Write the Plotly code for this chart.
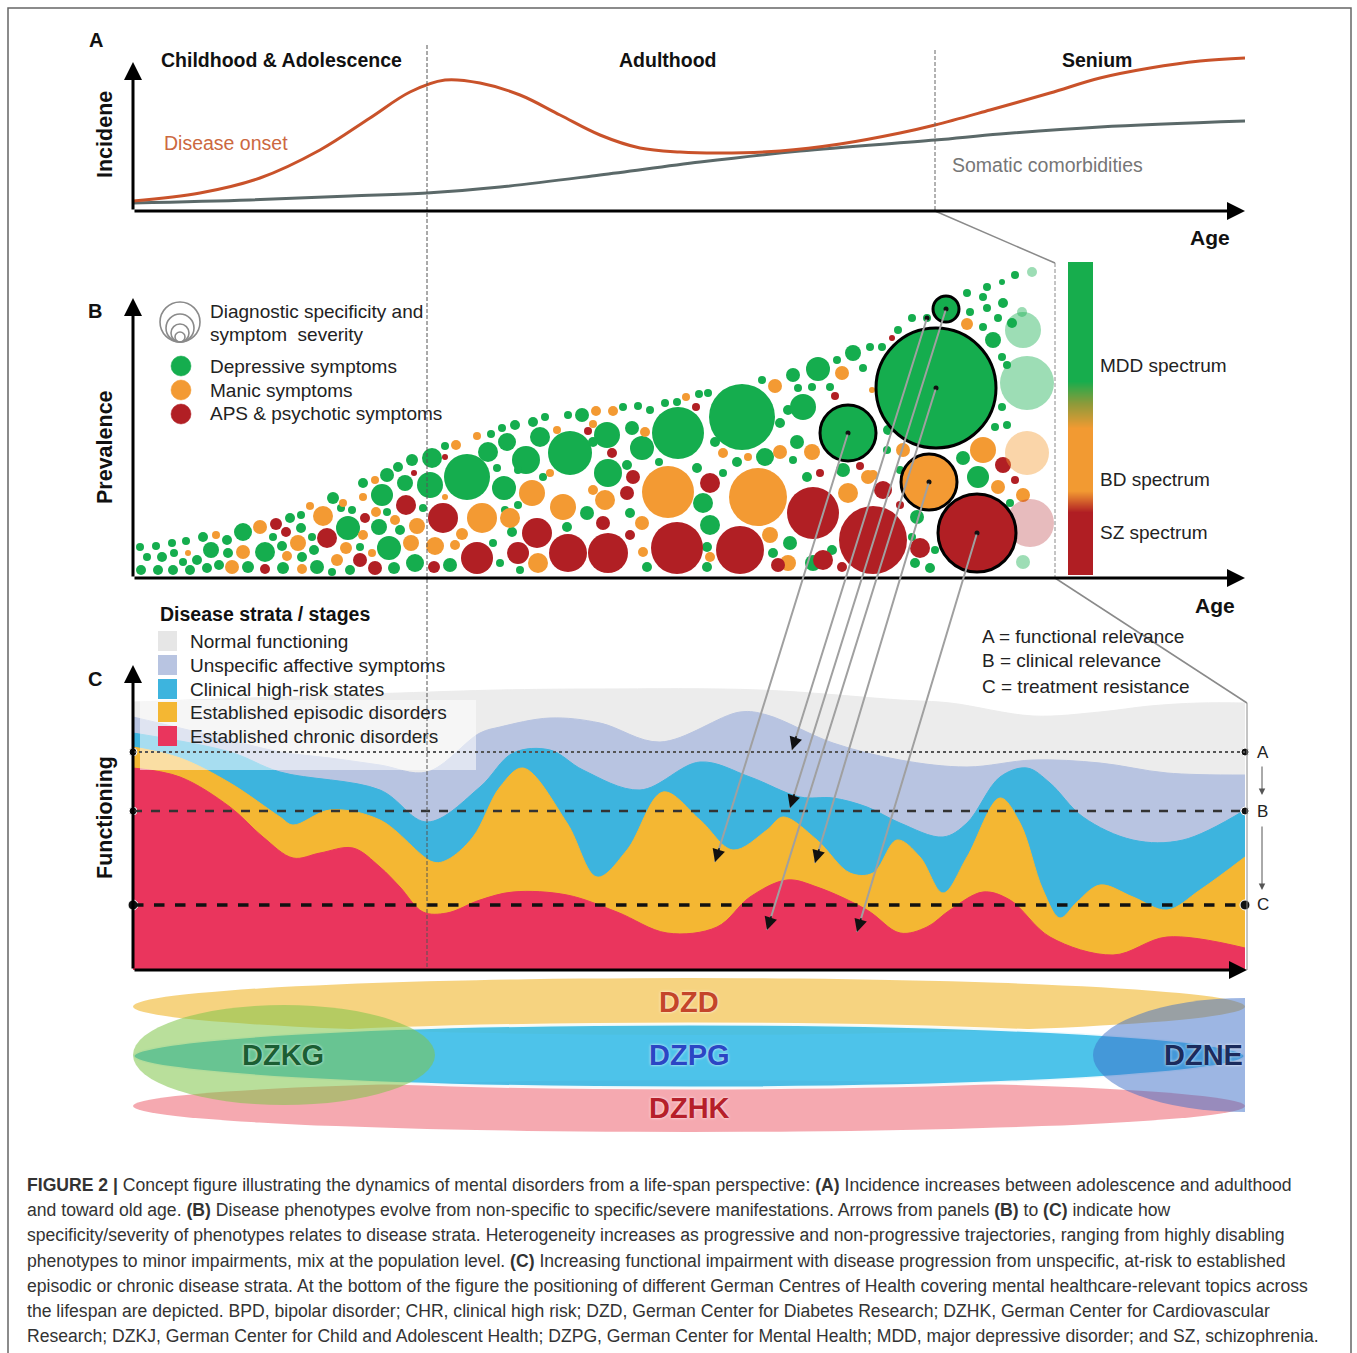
import plotly.graph_objects as go

W, H = 1357, 1353
FONT = "Liberation Sans, Arial, sans-serif"

# ======================= DATA =======================
# Panel A - incidence over age
onset_age = [0, 6.7, 12.7, 18.7, 23.7, 27.7, 31.2, 34.7, 38.7, 42.7, 46.7, 50.7, 54.7, 58.7,
             64.7, 70.7, 76.7, 80.2, 85.7, 91.7, 96.7, 101.7, 106.7, 111.2]
onset_inc = [1.0, 1.8, 3.3, 6.1, 9.3, 11.9, 13.1, 12.8, 11.6, 9.6, 7.6, 6.3, 5.9, 5.8,
             6.0, 6.7, 7.8, 8.6, 10.1, 11.8, 13.3, 14.3, 15.0, 15.3]
somatic_age = [0, 11.7, 21.7, 29.4, 36.7, 46.7, 56.7, 66.7, 80.2, 86.7, 96.7, 111.2]
somatic_inc = [0.8, 1.1, 1.5, 1.8, 2.4, 3.6, 4.9, 6.0, 7.1, 7.7, 8.4, 9.0]
stage_names = ["Childhood &amp; Adolescence", "Adulthood", "Senium"]
stage_centers = [14.8, 53.4, 96.4]
stage_bounds = [29.4, 80.2]

# Panel B - symptom bubbles (age, prevalence, severity radius)
green_age = [0.8, 2.5, 4.0, 5.7, 7.4, 8.6, 11.5, 15.0, 18.4, 19.9, 21.7, 26.1, 28.2, 1.4, 2.9, 4.1, 5.0,
             6.4, 7.8, 9.5, 13.2, 14.9, 16.9, 18.1, 22.7, 25.6, 0.7, 2.3, 3.9, 5.3, 7.0, 9.4, 11.0,
             14.0, 15.7, 16.8, 16.8, 17.9, 20.8, 21.5, 20.0, 21.9, 23.0, 24.6, 24.9, 25.4, 25.4, 26.7,
             26.5, 27.9, 27.2, 29.0, 29.9, 29.7, 31.2, 33.4, 35.8, 36.9, 38.2, 40.0, 41.2, 43.5, 44.9,
             49.0, 50.5, 51.7, 53.2, 54.4, 56.6, 57.5, 62.9, 66.0, 68.5, 72.0, 70.4, 73.7, 73.0, 67.9,
             66.5, 69.7, 35.5, 37.4, 39.3, 40.7, 37.1, 38.5, 36.4, 43.7, 47.4, 46.0, 49.9, 50.9, 54.5,
             60.9, 58.2, 52.6, 49.4, 47.5, 56.4, 60.4, 63.2, 59.0, 64.7, 65.5, 67.0, 66.4, 66.0, 67.4,
             71.0, 31.7, 36.0, 36.7, 37.9, 38.7, 38.5, 37.2, 41.0, 43.4, 45.4, 49.7, 51.4, 57.0, 57.7,
             57.4, 57.4, 64.0, 65.7, 68.0, 69.9, 88.2, 86.9, 85.4, 85.0, 83.4, 87.0, 85.4, 83.7, 86.5,
             87.9, 85.0, 77.9, 76.5, 74.9, 86.0, 86.9, 87.4, 86.9, 86.2, 87.4, 75.5, 75.4, 83.0, 84.5,
             87.7, 78.4, 77.9, 78.2, 80.2, 79.7, 76.7]
green_prev = [0.8, 0.8, 0.8, 0.8, 1.0, 1.3, 1.1, 1.0, 1.1, 0.6, 0.8, 1.0, 1.5, 2.1, 2.1, 2.5, 1.6,
              1.8, 2.8, 2.5, 2.6, 3.2, 2.1, 2.8, 3.1, 3.0, 3.1, 3.2, 3.5, 3.7, 4.1, 3.8, 4.6,
              4.1, 6.0, 5.0, 6.3, 4.1, 7.0, 5.0, 8.0, 6.8, 9.5, 5.1, 8.3, 10.3, 6.6, 4.8,
              11.1, 11.8, 9.5, 7.0, 12.0, 9.3, 13.2, 10.1, 14.4, 15.0, 15.3, 15.6, 16.1, 16.3, 16.3,
              17.1, 17.2, 16.8, 17.5, 17.6, 18.4, 18.5, 19.8, 20.3, 20.9, 22.5, 21.8, 23.1, 21.0, 19.1,
              19.0, 19.1, 12.6, 13.6, 11.8, 14.1, 9.0, 10.8, 11.0, 12.5, 14.3, 13.6, 15.0, 13.0, 14.5,
              16.1, 13.6, 11.6, 11.3, 10.5, 11.0, 11.6, 12.1, 10.5, 15.5, 16.8, 17.1, 13.6, 11.8, 10.1,
              10.8, 1.3, 3.5, 1.5, 4.6, 0.8, 7.3, 6.8, 10.1, 5.1, 6.5, 6.5, 1.1, 7.5, 5.3,
              3.1, 1.1, 2.5, 3.5, 1.5, 2.8, 30.3, 29.6, 29.1, 28.1, 28.5, 27.5, 27.0, 26.6, 26.0,
              25.5, 25.1, 26.0, 24.8, 23.1, 23.8, 22.1, 21.3, 17.1, 15.1, 15.3, 14.8, 12.8, 12.0, 10.1,
              7.5, 6.1, 4.1, 1.5, 2.8, 1.0, 10.8]
green_sev = [5, 5, 5, 5, 5, 5, 6, 6, 7, 4, 5, 6, 9, 4, 5, 4, 4,
             5, 8, 5, 10, 5, 5, 5, 4, 12, 4, 4, 4, 4, 5, 5, 9,
             4, 5, 5, 4, 4, 4, 12, 6, 4, 5, 8, 11, 7, 4, 5,
             5, 6, 8, 4, 10, 13, 4, 23, 4, 4, 5, 5, 4, 4, 7,
             4, 4, 4, 4, 4, 4, 4, 4, 7, 12, 8, 4, 4, 4, 4,
             4, 4, 10, 9, 14, 10, 12, 4, 4, 22, 13, 5, 7, 12, 26,
             33, 5, 4, 5, 14, 5, 5, 9, 4, 5, 5, 13, 7, 4, 5,
             7, 7, 4, 4, 5, 4, 4, 4, 4, 5, 7, 5, 5, 10, 10,
             5, 5, 5, 7, 8, 5, 4, 3, 4, 4, 4, 5, 4, 4, 4,
             5, 4, 4, 4, 4, 8, 4, 4, 4, 4, 4, 5, 4, 7, 11,
             4, 7, 4, 5, 4, 5, 4]

orange_age = [9.9, 16.9, 5.5, 11.0, 15.4, 16.5, 20.4, 21.3, 23.9, 27.8, 30.2, 8.3, 12.7, 17.7, 19.0,
              21.0, 24.2, 23.0, 23.0, 24.3, 26.2, 28.4, 31.2, 32.3, 34.4, 46.3, 48.0, 55.3, 64.2, 70.9,
              73.9, 42.4, 46.0, 51.2, 53.5, 59.0, 61.5, 62.5, 64.7, 67.9, 74.0, 71.5, 34.9, 32.9, 32.2,
              37.7, 40.5, 39.9, 41.7, 43.0, 46.0, 47.2, 50.9, 51.0, 57.7, 63.7, 65.5, 83.4, 77.0, 85.0,
              86.5, 89.0, 73.5]
orange_prev = [1.1, 0.9, 2.5, 2.6, 2.2, 3.5, 1.8, 3.0, 2.5, 3.5, 3.2, 4.3, 5.1, 7.2, 6.2,
               7.5, 9.8, 8.1, 4.3, 6.6, 5.8, 5.2, 8.1, 13.3, 14.2, 16.7, 16.7, 18.1, 19.2, 20.5,
               18.8, 14.8, 15.4, 14.6, 8.6, 12.5, 12.1, 8.1, 12.6, 12.6, 10.3, 8.5, 6.0, 4.4, 3.3,
               6.0, 1.5, 8.5, 10.5, 7.1, 8.8, 7.8, 5.5, 2.6, 2.1, 4.3, 1.5, 25.4, 12.8, 12.8,
               9.1, 8.3, 10.1]
orange_sev = [7, 5, 3, 7, 5, 8, 6, 6, 4, 8, 9, 4, 7, 4, 10,
              4, 4, 4, 5, 5, 5, 8, 3, 5, 4, 5, 5, 4, 7, 7,
              3, 4, 4, 5, 26, 5, 4, 29, 7, 8, 5, 10, 15, 6, 5,
              10, 10, 13, 4, 13, 5, 10, 7, 5, 5, 8, 8, 6, 7, 13,
              7, 7, 7]

red_age = [13.2, 24.2, 30.1, 19.4, 22.7, 14.3, 15.3, 23.2, 27.3, 28.1, 31.2, 31.0, 56.3, 70.2, 45.5,
           47.9, 50.0, 57.7, 68.7, 72.7, 68.0, 74.0, 34.4, 38.5, 40.4, 43.5, 47.0, 49.4, 49.7, 47.5,
           54.4, 60.7, 64.5, 69.0, 70.9, 75.9, 87.0, 88.2, 75.0, 76.7, 78.7]
red_prev = [0.9, 1.0, 1.1, 4.0, 1.8, 5.4, 4.6, 6.0, 7.3, 10.5, 12.1, 6.0, 17.1, 18.2, 14.7,
            12.5, 10.1, 9.5, 10.5, 11.2, 6.5, 3.8, 2.0, 2.5, 4.5, 2.5, 5.5, 8.5, 4.3, 2.5,
            3.0, 2.8, 1.3, 1.8, 1.1, 24.0, 11.3, 9.8, 8.8, 7.3, 3.0]
red_sev = [5, 7, 6, 10, 7, 6, 5, 5, 10, 3, 3, 15, 4, 4, 4,
           5, 7, 10, 4, 4, 26, 34, 16, 11, 15, 19, 7, 7, 5, 20,
           26, 24, 7, 10, 5, 3, 8, 4, 9, 4, 10]

# faded bubbles at the far end of the age span
faded_age = [89.0, 89.4, 89.4, 89.7, 89.0, 89.9, 88.9]
faded_prev = [24.8, 19.5, 12.5, 5.5, 1.6, 30.6, 26.6]
faded_sev = [18, 27, 22, 24, 7, 5, 5]
faded_type = ["g", "g", "o", "r", "g", "g", "g"]

# highlighted phenotypes (black outline)
hl_age = [71.5, 80.3, 81.3, 79.6, 84.4]
hl_prev = [14.5, 19.0, 26.9, 9.6, 4.5]
hl_sev = [28, 60, 13, 28, 39]
hl_type = ["g", "g", "g", "o", "r"]

# arrows B -> C (source bubble, target functioning level)
arrow_src_age = [71.5, 79.4, 81.3, 80.3, 79.6, 84.4]
arrow_src_prev = [14.5, 26.0, 26.9, 19.0, 9.6, 4.5]
arrow_dst_age = [58.2, 65.9, 65.7, 63.4, 68.2, 72.4]
arrow_dst_func = [10.8, 22.0, 16.2, 4.0, 10.7, 3.8]

# spectrum bar levels
spectrum_levels = [0.0, 0.05, 0.1, 0.15, 0.2, 0.25, 0.3, 0.35, 0.4, 0.45, 0.5,
                   0.55, 0.6, 0.65, 0.7, 0.75, 0.8, 0.85, 0.9, 0.95, 1.0]
spectrum_labels = ["MDD spectrum", "BD spectrum", "SZ spectrum"]
spectrum_label_pos = [0.67, 0.306, 0.137]

# Panel C - upper boundaries of functioning strata
normal_age = [0, 11.7, 26.7, 36.7, 46.7, 62.7, 76.7, 81.7, 90.0, 96.7, 101.7, 106.7, 111.2]
normal_top = [26.8, 27.2, 27.7, 28.0, 28.1, 28.0, 27.0, 26.7, 25.4, 25.8, 26.4, 26.7, 26.7]
unspec_age = [0, 4.7, 9.7, 14.7, 19.7, 24.7, 29.4, 34.7, 36.7, 41.7, 46.7, 52.7, 60.7, 63.4,
              70.0, 76.7, 83.4, 90.0, 96.7, 103.4, 111.2]
unspec_top = [25.3, 24.2, 23.0, 21.8, 21.2, 20.5, 19.8, 23.7, 24.3, 25.2, 24.7, 22.8, 25.8, 25.5,
              22.7, 21.0, 20.3, 21.0, 20.7, 19.7, 19.5]
risk_age = [0, 9.7, 14.7, 24.7, 29.4, 34.7, 38.0, 41.7, 45.0, 50.7, 56.7, 61.7, 66.7, 70.0,
            73.4, 76.7, 81.0, 83.4, 86.7, 89.4, 91.7, 95.0, 100.0, 105.0, 111.2]
risk_top = [23.7, 21.8, 19.8, 18.0, 14.8, 18.3, 21.7, 22.0, 20.0, 18.0, 20.8, 19.3, 17.3, 17.2,
            16.3, 14.7, 13.3, 14.7, 19.3, 20.2, 18.7, 15.3, 13.0, 13.0, 16.0]
episodic_age = [0, 4.7, 9.7, 14.7, 16.0, 19.7, 24.7, 30.0, 31.4, 34.0, 36.7, 39.0, 43.4, 46.4,
                49.4, 53.0, 56.7, 60.0, 63.4, 65.0, 68.4, 71.7, 74.0, 76.4, 78.7, 81.0, 83.4,
                86.7, 88.7, 91.0, 92.7, 94.4, 96.7, 100.0, 103.4, 106.7, 111.2]
episodic_top = [22.3, 21.2, 18.7, 15.3, 14.5, 16.0, 15.0, 10.8, 11.0, 13.3, 18.3, 20.2, 14.7, 9.3,
                12.0, 17.8, 15.0, 12.0, 14.0, 15.3, 13.0, 9.7, 9.7, 13.0, 11.3, 7.7, 11.3,
                17.2, 14.7, 8.0, 5.2, 6.8, 8.5, 7.3, 6.0, 8.0, 11.3]
chronic_age = [0, 4.7, 9.7, 13.0, 16.0, 18.7, 22.0, 24.7, 26.7, 29.0, 31.4, 34.7, 38.0, 43.4,
               48.4, 53.4, 58.4, 61.7, 65.4, 68.4, 73.4, 76.7, 79.4, 81.7, 85.0, 87.7, 91.7,
               98.0, 103.4, 111.2]
chronic_top = [20.2, 19.3, 16.3, 13.3, 11.2, 11.7, 12.2, 10.3, 8.3, 5.8, 5.7, 7.0, 7.8, 7.5,
               5.8, 3.7, 4.3, 7.3, 9.0, 8.3, 6.0, 3.7, 4.3, 6.0, 7.8, 7.0, 3.3,
               1.5, 3.3, 2.2]
strata_names = ["Normal functioning", "Unspecific affective symptoms", "Clinical high-risk states",
                "Established episodic disorders", "Established chronic disorders"]
level_names = ["A", "B", "C"]
level_values = [21.8, 15.9, 6.5]
level_texts = ["A = functional relevance", "B = clinical relevance", "C = treatment resistance"]

# Bottom - German Centres of Health (age span and band)
dz_names = ["DZD", "DZHK", "DZPG", "DZKG", "DZNE"]
dz_age0 = [0, 0, 0, 0, 96.0]
dz_age1 = [111.2, 111.2, 111.2, 30.2, 126.7]
dz_band0 = [10.0, 0.3, 4.7, 3.0, 2.3]
dz_band1 = [15.7, 5.5, 11.1, 13.0, 13.7]
dz_label_age = [55.6, 55.6, 55.6, 15.0, 111.2]
dz_label_band = [13.3, 2.7, 8.0, 8.0, 8.0]

caption_lines = [
    "<b>FIGURE 2 |</b> Concept figure illustrating the dynamics of mental disorders from a life-span perspective: <b>(A)</b> Incidence increases between adolescence and adulthood",
    "and toward old age. <b>(B)</b> Disease phenotypes evolve from non-specific to specific/severe manifestations. Arrows from panels <b>(B)</b> to <b>(C)</b> indicate how",
    "specificity/severity of phenotypes relates to disease strata. Heterogeneity increases as progressive and non-progressive trajectories, ranging from highly disabling",
    "phenotypes to minor impairments, mix at the population level. <b>(C)</b> Increasing functional impairment with disease progression from unspecific, at-risk to established",
    "episodic or chronic disease strata. At the bottom of the figure the positioning of different German Centres of Health covering mental healthcare-relevant topics across",
    "the lifespan are depicted. BPD, bipolar disorder; CHR, clinical high risk; DZD, German Center for Diabetes Research; DZHK, German Center for Cardiovascular",
    "Research; DZKJ, German Center for Child and Adolescent Health; DZPG, German Center for Mental Health; MDD, major depressive disorder; and SZ, schizophrenia.",
]

# ======================= GEOMETRY / STYLE =======================
PX_L, PX_R = 133, 1245
AGE_RANGE = [0, 111.2]
PANELS = {
    "A": dict(top=51, bottom=211, rng=[0, 16]),
    "B": dict(top=260, bottom=578, rng=[0, 31.8]),
    "C": dict(top=670, bottom=970, rng=[0, 30]),
    "D": dict(top=975, bottom=1135, rng=[0, 16]),
}
COL = {"g": "#15ad4e", "o": "#f39a33", "r": "#b11f24"}
FADE = {"g": "rgba(21,173,78,0.42)", "o": "rgba(243,154,51,0.42)", "r": "rgba(177,31,36,0.30)"}
STRATA_COL = ["#ececec", "#b8c4e1", "#3db4de", "#f4b733", "#ea355d"]
LEGEND_SQ = ["#e6e6e6", "#b8c4e1", "#3db4de", "#f4b733", "#ea355d"]


def X(px):
    return px / W


def Y(py):
    return 1 - py / H


def age_px(a):
    return PX_L + (a - AGE_RANGE[0]) / (AGE_RANGE[1] - AGE_RANGE[0]) * (PX_R - PX_L)


def val_py(panel, v):
    p = PANELS[panel]
    return p["bottom"] - (v - p["rng"][0]) / (p["rng"][1] - p["rng"][0]) * (p["bottom"] - p["top"])


fig = go.Figure()

# ---- Panel A ----
fig.add_trace(go.Scatter(x=somatic_age, y=somatic_inc, mode="lines", xaxis="x", yaxis="y",
                         line=dict(color="#5b6969", width=3, shape="spline", smoothing=1.0),
                         hoverinfo="skip"))
fig.add_trace(go.Scatter(x=onset_age, y=onset_inc, mode="lines", xaxis="x", yaxis="y",
                         line=dict(color="#c9522a", width=3, shape="spline", smoothing=1.0),
                         hoverinfo="skip"))

# ---- Panel B bubbles ----
for ages, prevs, sevs, c in [(green_age, green_prev, green_sev, "g"),
                             (orange_age, orange_prev, orange_sev, "o"),
                             (red_age, red_prev, red_sev, "r")]:
    fig.add_trace(go.Scatter(x=ages, y=prevs, mode="markers", xaxis="x2", yaxis="y2",
                             marker=dict(size=[2 * s for s in sevs], color=COL[c], opacity=1,
                                         line=dict(width=0)),
                             cliponaxis=False, hoverinfo="skip"))
fig.add_trace(go.Scatter(x=faded_age, y=faded_prev, mode="markers", xaxis="x2", yaxis="y2",
                         marker=dict(size=[2 * s for s in faded_sev], color=[FADE[t] for t in faded_type],
                                     opacity=1, line=dict(width=0)),
                         cliponaxis=False, hoverinfo="skip"))
fig.add_trace(go.Scatter(x=hl_age, y=hl_prev, mode="markers", xaxis="x2", yaxis="y2",
                         marker=dict(size=[2 * s for s in hl_sev], color=[COL[t] for t in hl_type],
                                     opacity=1, line=dict(width=3, color="#000000")),
                         cliponaxis=False, hoverinfo="skip"))
fig.add_trace(go.Scatter(x=[79.4], y=[26.0], mode="markers", xaxis="x2", yaxis="y2",
                         marker=dict(size=8, color=COL["g"], opacity=1, line=dict(width=0)),
                         cliponaxis=False, hoverinfo="skip"))
fig.add_trace(go.Scatter(x=arrow_src_age, y=arrow_src_prev, mode="markers", xaxis="x2", yaxis="y2",
                         marker=dict(size=5, color="#111111", opacity=1), cliponaxis=False,
                         hoverinfo="skip"))

# ---- spectrum bar ----
fig.add_trace(go.Heatmap(z=[[v] for v in spectrum_levels], y=spectrum_levels, x=[0],
                         xaxis="x5", yaxis="y5", showscale=False, zsmooth="best", hoverinfo="skip",
                         zmin=0, zmax=1,
                         colorscale=[[0, "#b01e23"], [0.2, "#b01e23"], [0.27, "#f29a32"],
                                     [0.47, "#f29a32"], [0.55, "#8c9a3a"], [0.62, "#17ad4d"],
                                     [1, "#17ad4d"]]))

# ---- Panel C strata ----
for ages, tops, col in [(normal_age, normal_top, STRATA_COL[0]), (unspec_age, unspec_top, STRATA_COL[1]),
                        (risk_age, risk_top, STRATA_COL[2]), (episodic_age, episodic_top, STRATA_COL[3]),
                        (chronic_age, chronic_top, STRATA_COL[4])]:
    fig.add_trace(go.Scatter(x=ages, y=tops, mode="lines", fill="tozeroy", fillcolor=col,
                             xaxis="x3", yaxis="y3",
                             line=dict(color=col, width=1, shape="spline", smoothing=1.0),
                             hoverinfo="skip"))

# level end dots
fig.add_trace(go.Scatter(x=[AGE_RANGE[0]] * 3 + [AGE_RANGE[1]] * 3, y=level_values * 2,
                         mode="markers", xaxis="x3", yaxis="y3", cliponaxis=False,
                         marker=dict(size=[8, 8, 10, 8, 8, 10], color="#111111", opacity=1),
                         hoverinfo="skip"))

# ======================= AXES =======================
ax_common = dict(visible=False, showgrid=False, zeroline=False, fixedrange=True)
layout_axes = {}
for i, key in enumerate(["A", "B", "C", "D"]):
    n = "" if i == 0 else str(i + 1)
    p = PANELS[key]
    layout_axes["xaxis" + n] = dict(domain=[X(PX_L), X(PX_R)], range=AGE_RANGE,
                                    anchor="y" + n, **ax_common)
    layout_axes["yaxis" + n] = dict(domain=[Y(p["bottom"]), Y(p["top"])], range=p["rng"],
                                    anchor="x" + n, **ax_common)
layout_axes["xaxis5"] = dict(domain=[X(1068), X(1093)], range=[-0.5, 0.5], anchor="y5", **ax_common)
layout_axes["yaxis5"] = dict(domain=[Y(575), Y(262)], range=[0, 1], anchor="x5", **ax_common)

shapes = []
annotations = []


def text(px, py, s, size=19, color="#222222", bold=False, xanchor="center", angle=0, family=FONT):
    annotations.append(dict(x=X(px), y=Y(py), xref="paper", yref="paper", text=("<b>%s</b>" % s) if bold else s,
                            showarrow=False, xanchor=xanchor, yanchor="middle", textangle=angle,
                            font=dict(size=size, color=color, family=family)))


def arrow(hx, hy, tx, ty, color="#000000", width=3, head=2, size=1.0):
    annotations.append(dict(x=X(hx), y=Y(hy), xref="paper", yref="paper", text="", showarrow=True,
                            ax=tx - hx, ay=ty - hy, axref="pixel", ayref="pixel",
                            arrowcolor=color, arrowwidth=width, arrowhead=head, arrowsize=size,
                            standoff=0, startstandoff=0))


def pline(x0, y0, x1, y1, color="#777777", width=1.5, dash="solid", layer="above"):
    shapes.append(dict(type="line", xref="paper", yref="paper", x0=X(x0), y0=Y(y0), x1=X(x1), y1=Y(y1),
                       line=dict(color=color, width=width, dash=dash), layer=layer))


def pcircle(cx, cy, r, fill="rgba(0,0,0,0)", line_color="#888888", lw=1.5):
    shapes.append(dict(type="circle", xref="paper", yref="paper", xsizemode="pixel", ysizemode="pixel",
                       xanchor=X(cx), yanchor=Y(cy), x0=-r, x1=r, y0=-r, y1=r,
                       fillcolor=fill, line=dict(color=line_color, width=lw), layer="above"))


# frame
shapes.append(dict(type="rect", xref="paper", yref="paper", x0=X(8), y0=Y(1364), x1=X(1351), y1=Y(8),
                   line=dict(color="#666666", width=1.5), fillcolor="rgba(0,0,0,0)", layer="above"))

# panel C legend translucent box
shapes.append(dict(type="rect", xref="paper", yref="paper", x0=X(140), y0=Y(770), x1=X(476), y1=Y(700),
                   line=dict(width=0), fillcolor="rgba(255,255,255,0.55)", layer="above"))

# reference levels in panel C
for v, dash, lw, col in zip(level_values, ["dot", "dash", "dash"], [2, 2.5, 3.5],
                            ["#555555", "#333333", "#111111"]):
    shapes.append(dict(type="line", xref="x3", yref="y3", x0=AGE_RANGE[0], x1=AGE_RANGE[1], y0=v, y1=v,
                       line=dict(color=col, width=lw, dash=dash), layer="above"))

# stage boundary lines
pline(age_px(stage_bounds[0]), 45, age_px(stage_bounds[0]), 970, color="#555555", width=1, dash="4px,2px")
pline(age_px(stage_bounds[1]), 50, age_px(stage_bounds[1]), 211, color="#666666", width=1, dash="4px,2px")
# zoom lens lines
pline(age_px(stage_bounds[1]), 211, 1055, 263, color="#8a8a8a", width=1.5)
pline(1055, 263, 1055, 578, color="#8a8a8a", width=1, dash="4px,2px")
pline(1055, 578, 1247, 703, color="#8a8a8a", width=1.5)
pline(1247, 703, 1247, 970, color="#8a8a8a", width=1)

# Centres of Health ellipses
dz_fill = ["rgba(243,196,85,0.75)", "rgba(242,140,150,0.75)", "rgba(62,190,232,0.92)",
           "rgba(128,196,72,0.55)", "rgba(60,110,200,0.5)"]
dz_line = [dict(width=0), dict(width=0), dict(width=3, color="rgba(255,255,255,0.9)"),
           dict(width=0), dict(width=0)]
for i in range(len(dz_names)):
    shapes.append(dict(type="circle", xref="x4", yref="y4", x0=dz_age0[i], x1=dz_age1[i],
                       y0=dz_band0[i], y1=dz_band1[i], fillcolor=dz_fill[i], line=dz_line[i], layer="above"))
dz_txt_col = ["#c4452a", "#b61f2a", "#2b46c4", "#1b5e33", "#1b2b5c"]
for i, nme in enumerate(dz_names):
    annotations.append(dict(x=dz_label_age[i], y=dz_label_band[i], xref="x4", yref="y4", text="<b>%s</b>" % nme,
                            showarrow=False, xanchor="right" if nme == "DZNE" else "center", yanchor="middle",
                            font=dict(size=29, color=dz_txt_col[i], family="Liberation Sans Narrow, " + FONT,
                                      shadow="0px 0px 3px rgba(255,255,255,0.9)")))

# ---- axis arrows ----
for key in ["A", "B", "C"]:
    p = PANELS[key]
    right = 1247 if key == "C" else PX_R
    arrow(right, p["bottom"], PX_L, p["bottom"], size=1.2)
top_tips = {"A": 62, "B": 298, "C": 665}
for key in ["A", "B", "C"]:
    arrow(PX_L, top_tips[key], PX_L, PANELS[key]["bottom"], size=1.2)

# ---- arrows from phenotypes to strata ----
for sa, sp, da, df in zip(arrow_src_age, arrow_src_prev, arrow_dst_age, arrow_dst_func):
    tx, ty = age_px(sa), val_py("B", sp)
    hx, hy = age_px(da), val_py("C", df)
    arrow(hx, hy, tx, ty, color="#a0a0a0", width=2, head=0)
    dx, dy = tx - hx, ty - hy
    L = (dx * dx + dy * dy) ** 0.5
    arrow(hx, hy, hx + dx / L * 16, hy + dy / L * 16, color="#111111", width=1.6, head=2, size=1.6)

# level arrows (A->B->C)
arrow(1262, 795, 1262, 765, color="#555555", width=1, head=2, size=1.3)
arrow(1262, 890, 1262, 825, color="#555555", width=1, head=2, size=1.3)

# ======================= TEXT =======================
text(96, 40, "A", size=20, color="#111", bold=True)
text(95, 311, "B", size=20, color="#111", bold=True)
text(95, 679, "C", size=20, color="#111", bold=True)
for nm, c in zip(stage_names, stage_centers):
    text(age_px(c), 60, nm, size=19.5, color="#111", bold=True)
text(105, 135, "Incidene", size=21.5, color="#111", bold=True, angle=-90)
text(105, 447, "Prevalence", size=21.5, color="#111", bold=True, angle=-90)
text(105, 818, "Functioning", size=21.5, color="#111", bold=True, angle=-90)
text(162, 143, "Disease onset", size=19.5, color="#cc6840", xanchor="left")
text(950, 165, "Somatic comorbidities", size=19.5, color="#767676", xanchor="left")
text(1210, 237, "Age", size=21, color="#111", bold=True)
text(1215, 605, "Age", size=21, color="#111", bold=True)

# panel B legend
for r_, cy_ in [(20, 322), (14, 328), (9, 333), (5, 337)]:
    pcircle(180, cy_, r_, line_color="#8a8a8a", lw=1.6)
text(208, 311, "Diagnostic specificity and", size=19, xanchor="left")
text(208, 335, "symptom  severity", size=19, xanchor="left")
for (nm, c, py) in [("Depressive symptoms", "g", 366), ("Manic symptoms", "o", 390),
                    ("APS &amp; psychotic symptoms", "r", 414)]:
    pcircle(181, py, 10, fill=COL[c], line_color=COL[c], lw=0.5)
    text(208, py, nm, size=19, xanchor="left")

# spectrum labels
for lab, pos in zip(spectrum_labels, spectrum_label_pos):
    text(1098, 575 - pos * (575 - 262), lab, size=19, xanchor="left")

# panel C legend
text(158, 614, "Disease strata / stages", size=19.5, color="#111", bold=True, xanchor="left")
for i, (nm, py) in enumerate(zip(strata_names, [641, 665, 689, 712, 736])):
    shapes.append(dict(type="rect", xref="paper", yref="paper", x0=X(158), x1=X(177), y0=Y(py + 10),
                       y1=Y(py - 10), fillcolor=LEGEND_SQ[i], line=dict(width=0), layer="above"))
    text(188, py, nm, size=19, xanchor="left")
for t, py in zip(level_texts, [636, 660, 686]):
    text(980, py, t, size=19, xanchor="left")
for nm, v in zip(level_names, level_values):
    text(1255, val_py("C", v), nm, size=17, xanchor="left")

# caption
for i, line in enumerate(caption_lines):
    text(25, 1185 + i * 25.2, line, size=17.6, color="#333333", xanchor="left")

fig.update_layout(width=W, height=H, margin=dict(l=0, r=0, t=0, b=0), paper_bgcolor="white",
                  plot_bgcolor="rgba(0,0,0,0)", showlegend=False, shapes=shapes, annotations=annotations,
                  font=dict(family=FONT), **layout_axes)

fig.write_html("out.html", config={"displayModeBar": False},
               post_script="document.body.style.margin='0';")
